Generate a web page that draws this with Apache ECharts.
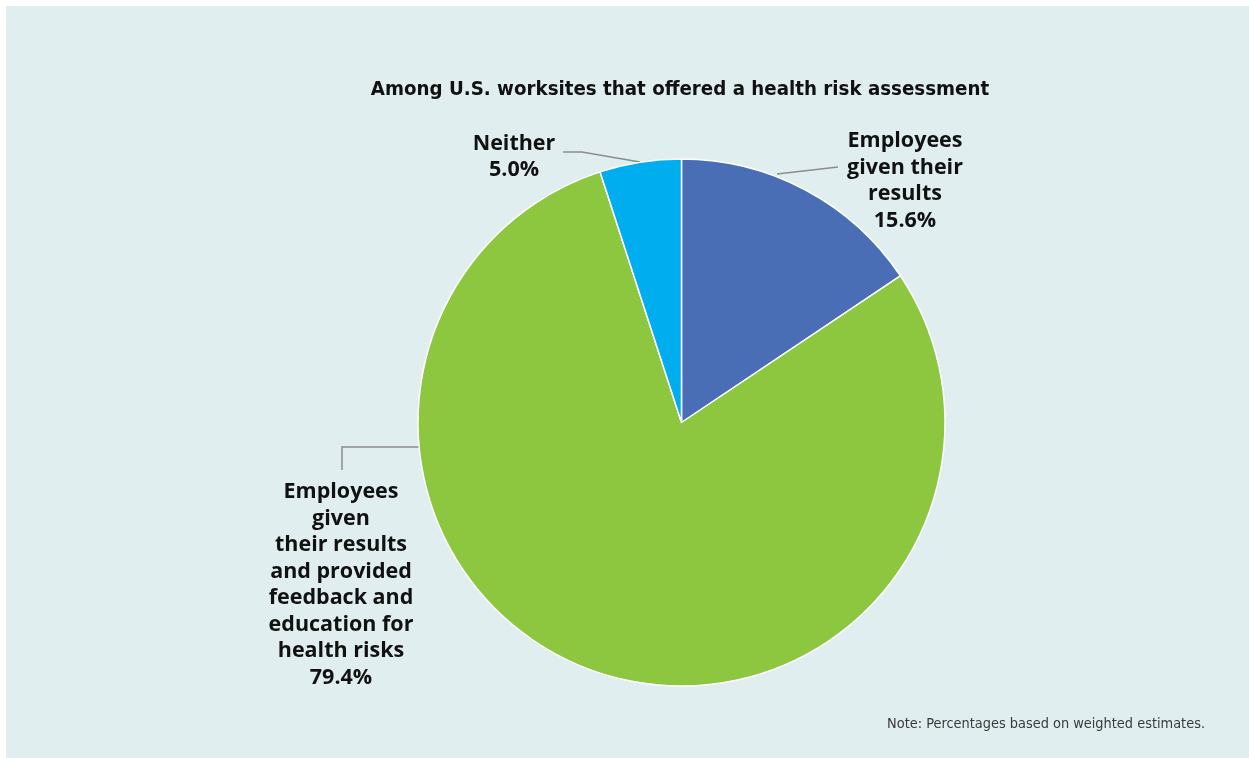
<!DOCTYPE html>
<html>
<head>
<meta charset="utf-8">
<script src="https://cdn.jsdelivr.net/npm/echarts@6/dist/echarts.min.js"></script>
<style>
  html, body { margin: 0; padding: 0; background: #ffffff; }
  #chart { width: 1249px; height: 758px; }
</style>
</head>
<body>
<div id="chart"></div>
<script>
// Health risk assessment follow-up among U.S. worksites
const categories = [
  'Employees\ngiven their\nresults',
  'Employees\ngiven\ntheir results\nand provided\nfeedback and\neducation for\nhealth risks',
  'Neither'
];
const shares = [15.6, 79.4, 5.0];
const sliceColors = ['#4a6eb5', '#8dc63f', '#00aeef'];
const titleText = 'Among U.S. worksites that offered a health risk assessment';
const noteText = 'Note: Percentages based on weighted estimates.';

// Label placement (text centre + leader line) for each slice
const labelSpots = [
  { x: 905, y: 181, line: [[777, 174], [838, 167]] },
  { x: 341, y: 585, line: [[419, 447], [342, 447], [342, 470]] },
  { x: 514, y: 157, line: [[640, 162], [582, 152], [563, 152]] }
];

const chart = echarts.init(document.getElementById('chart'), null, { renderer: 'canvas' });

chart.setOption({
  backgroundColor: '#ffffff',
  animation: false,
  graphic: [
    {
      type: 'rect',
      z: -10,
      shape: { x: 6, y: 6, width: 1243, height: 752 },
      style: { fill: '#e0eef0' }
    },
    {
      type: 'text',
      x: 680,
      y: 90,
      style: {
        text: titleText,
        align: 'center',
        verticalAlign: 'middle',
        font: "bold 20.3px 'Liberation Sans Narrow', 'DejaVu Sans Condensed', sans-serif",
        fill: '#111111'
      }
    },
    {
      type: 'text',
      x: 1205,
      y: 724,
      style: {
        text: noteText,
        align: 'right',
        verticalAlign: 'middle',
        font: "14.4px 'Liberation Sans Narrow', 'DejaVu Sans Condensed', sans-serif",
        fill: '#3a3a3a'
      }
    }
  ],
  series: [
    {
      type: 'pie',
      center: [681.5, 422.5],
      radius: 263.5,
      startAngle: 90,
      clockwise: true,
      itemStyle: { borderColor: '#ffffff', borderWidth: 1.5 },
      data: categories.map((name, i) => ({
        name: name,
        value: shares[i],
        itemStyle: { color: sliceColors[i] }
      })),
      label: {
        show: true,
        formatter: p => p.name + '\n' + p.value.toFixed(1) + '%',
        fontFamily: "'Open Sans', sans-serif",
        fontWeight: 700,
        fontSize: 21.5,
        lineHeight: 26.5,
        color: '#111111',
        align: 'center'
      },
      labelLine: {
        show: true,
        lineStyle: { color: '#8c8c8c', width: 1.5 }
      },
      labelLayout: function (params) {
        const s = labelSpots[params.dataIndex];
        return {
          x: s.x,
          y: s.y,
          align: 'center',
          verticalAlign: 'middle',
          labelLinePoints: s.line
        };
      },
      emphasis: { disabled: true }
    }
  ]
});
</script>
</body>
</html>
